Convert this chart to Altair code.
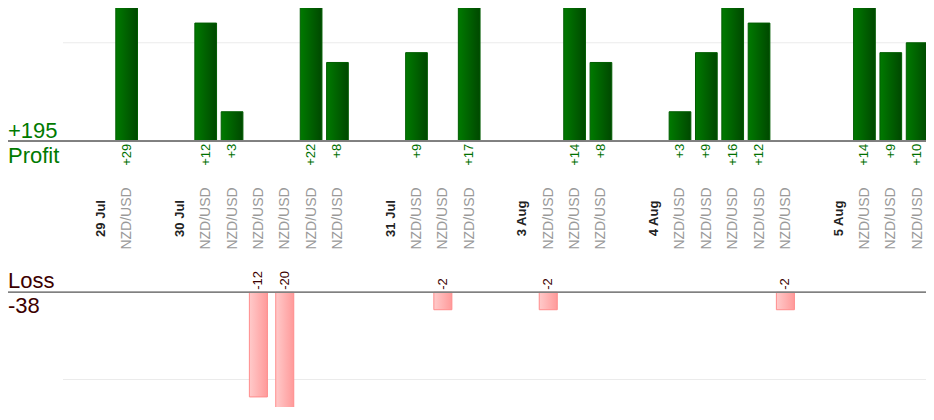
import altair as alt
import pandas as pd

# ---- data ----
axis_labels = ["29 Jul", "NZD/USD", "",
               "30 Jul", "NZD/USD", "NZD/USD", "NZD/USD", "NZD/USD", "NZD/USD", "NZD/USD", "",
               "31 Jul", "NZD/USD", "NZD/USD", "NZD/USD", "",
               "3 Aug", "NZD/USD", "NZD/USD", "NZD/USD", "",
               "4 Aug", "NZD/USD", "NZD/USD", "NZD/USD", "NZD/USD", "NZD/USD", "",
               "5 Aug", "NZD/USD", "NZD/USD", "NZD/USD"]
day_slots = [0, 3, 11, 16, 21, 28]
trade_slots = [1, 4, 5, 6, 7, 8, 9, 12, 13, 14, 17, 18, 19, 22, 23, 24, 25, 26, 29, 30, 31]
trade_pnl = [29, 12, 3, -12, -20, 22, 8, 9, -2, 17, -2, 14, 8, 3, 9, 16, 12, -2, 14, 9, 10]
profit_grid = [10]
loss_grid = [-10]

profit_df = pd.DataFrame({"slot": [s for s, v in zip(trade_slots, trade_pnl) if v > 0],
                          "pnl": [v for v in trade_pnl if v > 0]})
profit_df["label"] = ["+" + str(v) for v in profit_df["pnl"]]
loss_df = pd.DataFrame({"slot": [s for s, v in zip(trade_slots, trade_pnl) if v < 0],
                        "pnl": [v for v in trade_pnl if v < 0]})
loss_df["label"] = [str(v) for v in loss_df["pnl"]]

total_profit = int(profit_df["pnl"].sum())
total_loss = int(loss_df["pnl"].sum())

FONT = "Arial, Liberation Sans, sans-serif"
GREEN_TXT = "#007a00"
RED_TXT = "#3c0000"

label_slots = sorted(day_slots + trade_slots)
label_array = "[" + ",".join("'" + t + "'" for t in axis_labels) + "]"
is_day = "indexof([" + ",".join(str(d) for d in day_slots) + "], datum.value) >= 0"

xscale = alt.Scale(domain=[-3.503, 31.336], nice=False, zero=False)
xaxis = alt.Axis(
    values=label_slots, labelExpr=label_array + "[datum.value]",
    labelAngle=270, labelAlign="center", labelBaseline="middle",
    labelPadding=0, ticks=False, tickSize=0, domain=False, grid=False, title=None,
    offset=-189, labelOverlap=False, labelFlush=False, labelFont=FONT,
    labelFontSize={"condition": {"test": is_day, "value": 13}, "value": 14},
    labelFontWeight={"condition": {"test": is_day, "value": "bold"}, "value": "normal"},
    labelColor={"condition": {"test": is_day, "value": "#222222"}, "value": "#999999"},
)

ys_p = alt.Scale(domain=[-26.97, 13.53], nice=False, zero=False)
ys_l = alt.Scale(domain=[-13.154, 32.60], nice=False, zero=False)

green_grad = alt.Gradient(gradient="linear",
                          stops=[alt.GradientStop(color="#007a00", offset=0),
                                 alt.GradientStop(color="#004800", offset=1)],
                          x1=0, x2=1, y1=0, y2=0)
pink_grad = alt.Gradient(gradient="linear",
                         stops=[alt.GradientStop(color="#ffcaca", offset=0),
                                alt.GradientStop(color="#ff9a9a", offset=1)],
                         x1=0, x2=1, y1=0, y2=0)

# ---- profit part ----
p_grid = alt.Chart(pd.DataFrame({"g": profit_grid})).mark_rule(
    color="#ebebeb", strokeWidth=1).encode(
    y=alt.Y("g:Q", scale=ys_p, axis=None), x=alt.value(55), x2=alt.value(918))
pbase = alt.Chart(profit_df).transform_calculate(
    x0="datum.slot - 0.412", x1="datum.slot + 0.412", base="0")
p_bars = pbase.mark_bar(fill=green_grad, stroke="#005c00", strokeWidth=1, clip=True).encode(
    x=alt.X("x0:Q", scale=xscale, axis=xaxis), x2="x1:Q",
    y=alt.Y("pnl:Q", scale=ys_p, axis=None), y2="base:Q")
p_text = pbase.mark_text(angle=270, align="right", baseline="middle", dx=-2.5,
                         font=FONT, fontSize=13, color="#007000").encode(
    x=alt.X("slot:Q", scale=xscale, axis=xaxis),
    y=alt.Y("base:Q", scale=ys_p, axis=None), text="label:N")
p_rule = alt.Chart(profit_df).mark_rule(color="#808080", strokeWidth=1).encode(
    y=alt.YDatum(0, scale=ys_p, axis=None))
p_total = alt.Chart(pd.DataFrame({"t": ["+" + str(total_profit)]})).mark_text(
    align="left", baseline="alphabetic", dy=-3, font=FONT, fontSize=22, color=GREEN_TXT).encode(
    x=alt.value(0), y=alt.YDatum(0, scale=ys_p, axis=None), text="t:N")
p_name = alt.Chart(pd.DataFrame({"t": ["Profit"]})).mark_text(
    align="left", baseline="alphabetic", dy=21.4, font=FONT, fontSize=22, color=GREEN_TXT).encode(
    x=alt.value(0), y=alt.YDatum(0, scale=ys_p, axis=None), text="t:N")
profit_layer = alt.layer(p_grid, p_bars, p_rule, p_text, p_total, p_name)

# ---- loss part ----
l_grid = alt.Chart(pd.DataFrame({"g": loss_grid})).mark_rule(
    color="#ebebeb", strokeWidth=1).encode(
    y=alt.Y("g:Q", scale=ys_l, axis=None), x=alt.value(55), x2=alt.value(918))
lbase = alt.Chart(loss_df).transform_calculate(
    x0="datum.slot - 0.342", x1="datum.slot + 0.342", base="0")
l_bars = lbase.mark_bar(fill=pink_grad, stroke="#ff8c8c", strokeWidth=1, clip=True).encode(
    x=alt.X("x0:Q", scale=xscale, axis=xaxis), x2="x1:Q",
    y=alt.Y("pnl:Q", scale=ys_l, axis=None), y2="base:Q")
l_text = lbase.mark_text(angle=270, align="left", baseline="middle", dx=2.5,
                         font=FONT, fontSize=13, color="#3c0000").encode(
    x=alt.X("slot:Q", scale=xscale, axis=xaxis),
    y=alt.Y("base:Q", scale=ys_l, axis=None), text="label:N")
l_rule = alt.Chart(loss_df).mark_rule(color="#808080", strokeWidth=1).encode(
    y=alt.YDatum(0, scale=ys_l, axis=None))
l_total = alt.Chart(pd.DataFrame({"t": [str(total_loss)]})).mark_text(
    align="left", baseline="alphabetic", dy=21, font=FONT, fontSize=22, color=RED_TXT).encode(
    x=alt.value(0), y=alt.YDatum(0, scale=ys_l, axis=None), text="t:N")
l_name = alt.Chart(pd.DataFrame({"t": ["Loss"]})).mark_text(
    align="left", baseline="alphabetic", dy=-4, font=FONT, fontSize=22, color=RED_TXT).encode(
    x=alt.value(0), y=alt.YDatum(0, scale=ys_l, axis=None), text="t:N")
loss_layer = alt.layer(l_grid, l_bars, l_rule, l_text, l_total, l_name)

chart = alt.layer(profit_layer, loss_layer).resolve_scale(y="independent").properties(
    width=918, height=399, padding=0, autosize=alt.AutoSizeParams(type="none"),
    background="white"
).configure_view(stroke=None)

chart.save("out.html", embed_options={"renderer": "svg", "actions": False})
